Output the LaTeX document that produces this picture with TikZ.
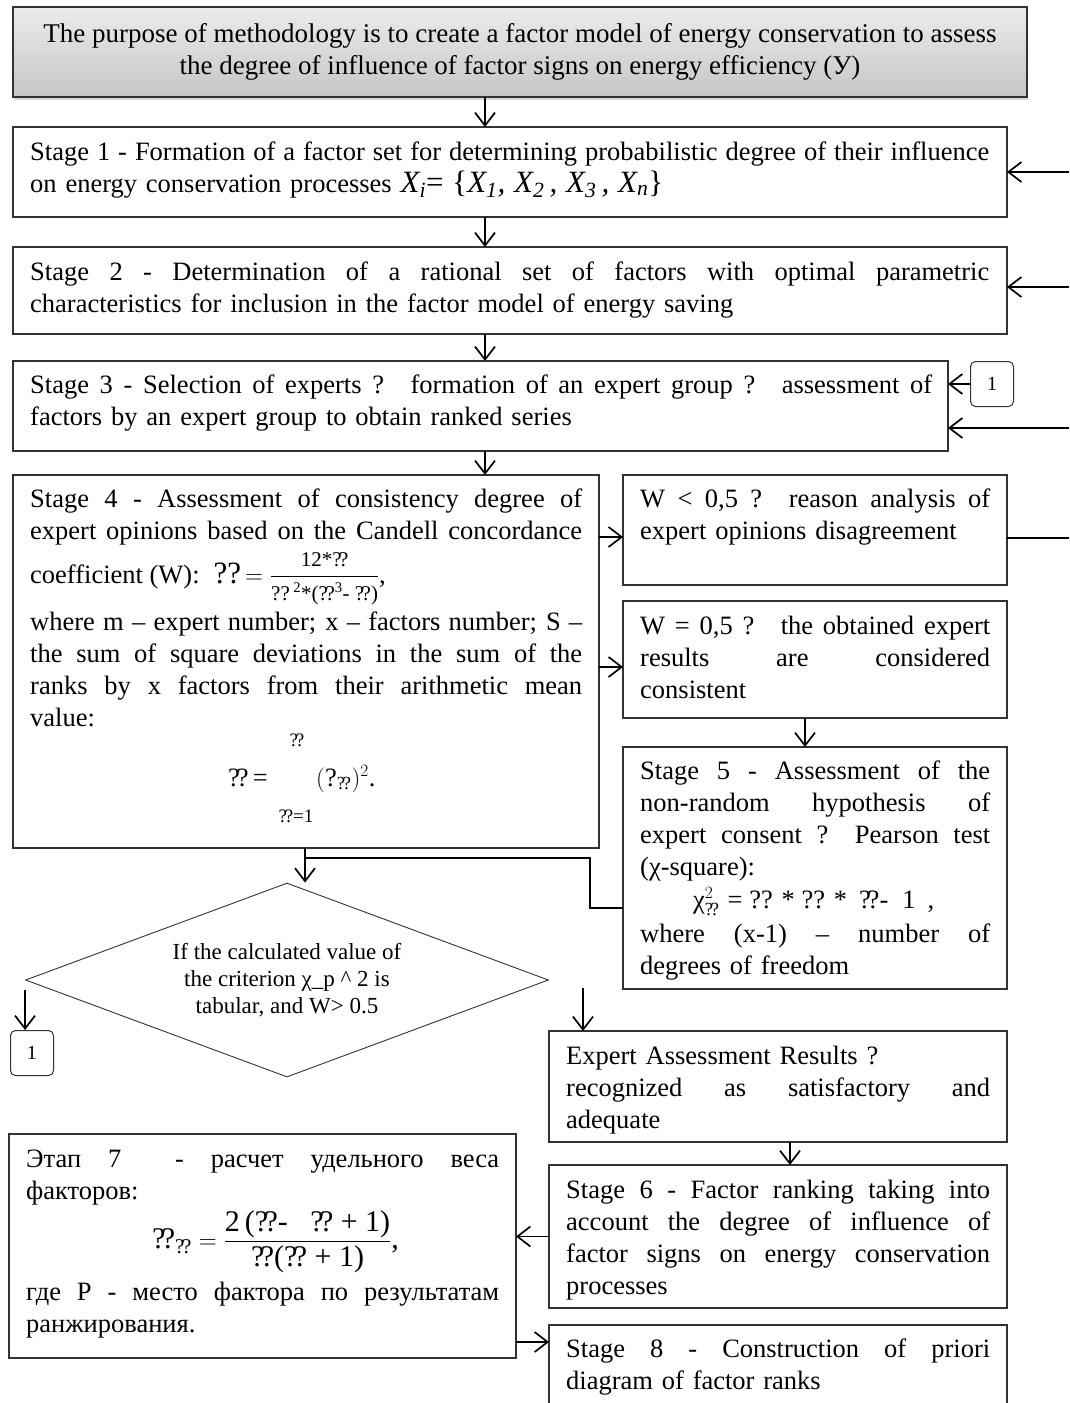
\documentclass[tikz,border=0pt]{standalone}
\usepackage{amsmath}
\usepackage{fontspec}
\setmainfont{Liberation Serif}
\usetikzlibrary{arrows.meta,shapes.geometric,shadows}
\newcommand{\qq}{\text{?\kern-0.12em?}}
\newcommand{\J}[2]{\leavevmode\hbox to #1pt{\spaceskip=0.25em plus 20em minus 0.1em\relax #2}}
\begin{document}
\begin{tikzpicture}[x=1pt,y=-1pt,
  box/.style={draw=black!80, line width=1.2pt, anchor=north west, inner sep=0pt, outer sep=0pt},
  onebox/.style={draw=black!80, line width=1pt, rounded corners=5pt, anchor=north west, inner sep=0pt, minimum width=43, minimum height=45, font=\fontsize{20}{22}\selectfont},
  txt/.style={anchor=base west, inner sep=0pt, align=left, font=\fontsize{26.5}{32}\selectfont},
  frm/.style={anchor=base west, inner sep=0pt, font=\fontsize{26.5}{32}\selectfont},
  small/.style={inner sep=0pt, font=\fontsize{19}{20}\selectfont},
  arr/.style={line width=1.7pt, -{Straight Barb[length=13pt,width=20pt,line width=1.7pt]}},
  ln/.style={line width=1.4pt}]
\clip (0,0) rectangle (1069,1403);
\fill[white] (0,0) rectangle (1069,1403);

% columns / free ends
\coordinate (c485) at (485,0);
\coordinate (c805) at (805,0);
\coordinate (c305) at (305,0);
\coordinate (c790) at (790,0);
\coordinate (y537) at (0,537);
\coordinate (y667) at (0,667);
\coordinate (y1342) at (0,1342);
\coordinate (e1) at (1069,172);
\coordinate (e2) at (1069,287);
\coordinate (e3) at (1069,428);
\coordinate (e4) at (1069,538);
\coordinate (k1) at (590,908);
\coordinate (k2) at (590,858);
\coordinate (r2) at (583,988);

% boxes
\node[box, minimum width=1014, minimum height=90, top color=gray!15, bottom color=gray!45,
      drop shadow={shadow xshift=1pt, shadow yshift=-3pt, fill=gray!60},
      align=center, font=\fontsize{27}{32}\selectfont] (top) at (13,7)
  {The purpose of methodology is to create a factor model of energy conservation to assess\\
   the degree of influence of factor signs on energy efficiency (У)};
\node[box, minimum width=994, minimum height=90] (s1) at (13,127) {};
\node[box, minimum width=994, minimum height=87] (s2) at (13,247) {};
\node[box, minimum width=935, minimum height=90] (s3) at (13,361) {};
\node[onebox] (one3) at (970,361) {1};
\node[box, minimum width=586, minimum height=373] (s4) at (13,475) {};
\node[box, minimum width=384, minimum height=110] (wl) at (623,475) {};
\node[box, minimum width=384, minimum height=117] (we) at (623,601) {};
\node[box, minimum width=384, minimum height=242] (s5) at (623,747) {};
\node[draw=black!80, line width=0.9pt, shape=diamond, minimum width=523, minimum height=194,
      aspect=2.7, inner sep=0pt, align=center, font=\fontsize{23}{27}\selectfont] (dia) at (287,980)
  {If the calculated value of\\the criterion χ\_p \textasciicircum{} 2 is\\tabular, and W> 0.5};
\node[onebox] (one4) at (10,1030) {1};
\node[box, minimum width=458, minimum height=111] (ex) at (549,1031) {};
\node[box, minimum width=458, minimum height=143] (s6) at (549,1165) {};
\node[box, minimum width=507, minimum height=224] (s7) at (9,1134) {};
\node[box, minimum width=458, minimum height=100] (s8) at (549,1325) {};

% texts
\node[txt, text width=959] (s1t) at (30,160)
  {\J{959}{Stage 1 - Formation of a factor set for determining probabilistic degree of their influence}\\
   on energy conservation processes {\fontsize{31}{32}\selectfont\textit{X\textsubscript{i}}= \{\textit{X\textsubscript{1}, X\textsubscript{2}\,, X\textsubscript{3}\,, X\textsubscript{n}}\}}};
\node[txt, text width=959] (s2t) at (30,280)
  {\J{959}{Stage 2 - Determination of a rational set of factors with optimal parametric}\\
   characteristics for inclusion in the factor model of energy saving};
\node[txt, text width=902] (s3t) at (30,393)
  {\J{902}{Stage 3 - Selection of experts ?\hspace{0.5em} formation of an expert group ?\hspace{0.5em} assessment of}\\
   factors by an expert group to obtain ranked series};

\node[txt, text width=552] (s4a) at (30,507)
  {\J{552}{Stage 4 - Assessment of consistency degree of}\\
   \J{552}{expert opinions based on the Candell concordance}};
\node[frm] (s4f) at (30,583)
  {coefficient (W):\hspace{14pt}{\fontsize{31}{32}\selectfont ??}\hspace{4pt}$=\dfrac{\text{\fontsize{21}{22}\selectfont 12*\qq}}{\text{\fontsize{21}{22}\selectfont ??\,\textsuperscript{2}*(\qq\textsuperscript{3}-\ \qq)}}$,};
\node[txt, text width=552] (s4b) at (30,630)
  {\J{552}{where m – expert number; x – factors number; S –}\\
   \J{552}{the sum of square deviations in the sum of the}\\
   \J{552}{ranks by x factors from their arithmetic mean}\\
   value:};
\node[small] (sumT) at (297,740) {\qq};
\node[frm] (sumL) at (228,786) {\qq\,=};
\node[frm] (sumR) at (316,786) {$(\text{?}_{\qq})^{2}$.};
\node[small] (sumB) at (296,816) {\qq=1};

\node[txt, text width=350] (wlt) at (640,507)
  {\J{350}{W < 0,5 ?\hspace{0.5em} reason analysis of}\\
   expert opinions disagreement};
\node[txt, text width=350] (wet) at (640,634)
  {\J{350}{W = 0,5 ?\hspace{0.5em} the obtained expert}\\
   \J{350}{results are considered}\\
   consistent};
\node[txt, text width=350] (s5a) at (640,779)
  {\J{350}{Stage 5 - Assessment of the}\\
   \J{350}{non-random hypothesis of}\\
   \J{350}{expert consent ?\hspace{0.5em} Pearson test}\\
   (χ-square):};
\node[frm] (s5f) at (693,908)
  {$\text{χ}^{2}_{\qq}$\hspace{8pt}= ?? * ?? *\hspace{12pt}\qq-\hspace{14pt}1\hspace{12pt},};
\node[txt, text width=350] (s5b) at (640,942)
  {\J{350}{where (x-1) – number of}\\
   degrees of freedom};

\node[txt, text width=424] (ext) at (566,1064)
  {Expert Assessment Results ?\\
   \J{424}{recognized as satisfactory and}\\
   adequate};
\node[txt, text width=424] (s6t) at (566,1198)
  {\J{424}{Stage 6 - Factor ranking taking into}\\
   \J{424}{account the degree of influence of}\\
   \J{424}{factor signs on energy conservation}\\
   processes};
\node[txt, text width=473] (s7a) at (26,1167)
  {\J{473}{Этап 7 \ - расчет удельного веса}\\
   факторов:};
\node[frm, font=\fontsize{30}{32}\selectfont] (s7f) at (152,1248)
  {$\qq_{\qq}=\dfrac{\text{2\,(}\qq\text{-}\ \ \ \qq\text{ + 1)}}{\qq\text{(}\qq\text{ + 1)}}$,};
\node[txt, text width=473] (s7b) at (26,1300)
  {\J{473}{где P - место фактора по результатам}\\
   ранжирования.};
\node[txt, text width=424] (s8t) at (566,1357)
  {\J{424}{Stage 8 - Construction of priori}\\
   diagram of factor ranks};

% connectors
\draw[arr] (top.south -| c485) -- (s1.north -| c485);
\draw[arr] (s1.south -| c485) -- (s2.north -| c485);
\draw[arr] (s2.south -| c485) -- (s3.north -| c485);
\draw[arr] (s3.south -| c485) -- (s4.north -| c485);
\draw[arr] (e1) -- (e1 -| s1.east);
\draw[arr] (e2) -- (e2 -| s2.east);
\draw[arr] (e3) -- (e3 -| s3.east);
\draw[arr] (one3.west) -- (one3.west -| s3.east);
\draw[arr] (s4.east |- y537) -- (wl.west |- y537);
\draw[arr] (s4.east |- y667) -- (we.west |- y667);
\draw[ln] (wl.east |- e4) -- (e4);
\draw[arr] (we.south -| c805) -- (s5.north -| c805);
\draw[ln] (s5.west |- k1) -- (k1) -- (k2) -- (k2 -| c305);
\draw[arr] (s4.south -| c305) -- (dia.north -| c305);
\draw[arr] ([yshift=-10pt]dia.west) -- (one4.north -| dia.west);
\draw[arr] (r2) -- (ex.north -| r2);
\draw[arr] (ex.south -| c790) -- (s6.north -| c790);
\draw[arr] (s6.west) -- (s6.west -| s7.east);
\draw[arr] (s7.east |- y1342) -- (s8.west |- y1342);
\end{tikzpicture}
\end{document}
